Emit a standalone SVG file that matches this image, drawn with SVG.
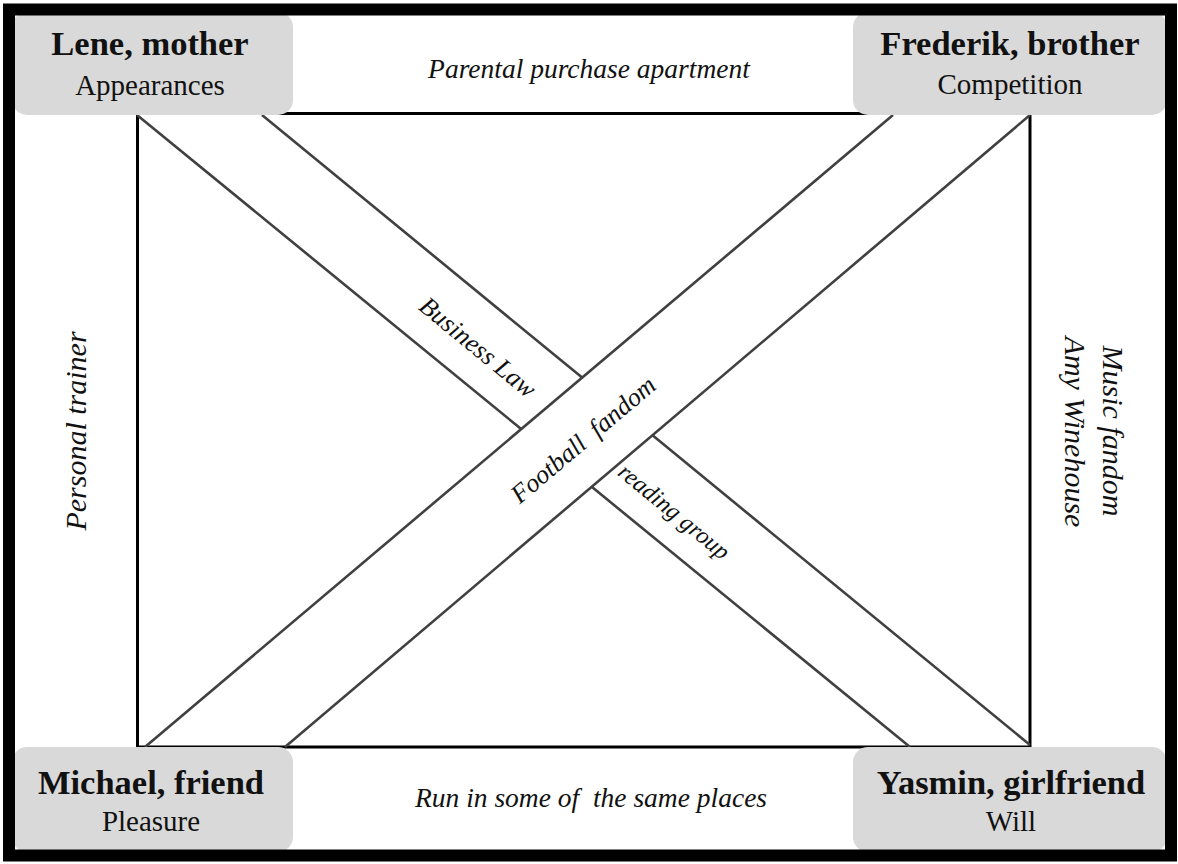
<svg xmlns="http://www.w3.org/2000/svg" width="1178" height="864" viewBox="0 0 1178 864">
<style>
.box{fill:#d9d9d9;}
.name{font-family:"Liberation Serif",serif;font-weight:bold;font-size:34.5px;fill:#111;text-anchor:middle;}
.sub{font-family:"Liberation Serif",serif;font-size:29px;fill:#111;text-anchor:middle;}
.lab{font-family:"Liberation Serif",serif;font-style:italic;font-size:27.5px;fill:#111;text-anchor:middle;white-space:pre;}
.vlab{font-family:"Liberation Serif",serif;font-style:italic;font-size:30px;fill:#111;text-anchor:middle;white-space:pre;}
.blab{font-family:"Liberation Serif",serif;font-style:italic;font-size:26px;fill:#111;text-anchor:middle;white-space:pre;}
.rect{fill:none;stroke:#000;stroke-width:3;}
.diag{stroke:#404040;stroke-width:2.6;fill:none;}
</style>
<rect x="0" y="0" width="1178" height="864" fill="#fff"/>
<g id="connectors">
<rect class="rect" x="137.5" y="113.5" width="892.5" height="633.5"/>
<line class="diag" x1="137" y1="115" x2="521.2" y2="429.1"/>
<line class="diag" x1="591.7" y1="486.8" x2="910" y2="747"/>
<line class="diag" x1="262" y1="115" x2="582.1" y2="377.6"/>
<line class="diag" x1="652.5" y1="435.3" x2="1030" y2="745"/>
<line class="diag" x1="893" y1="115" x2="145" y2="747"/>
<line class="diag" x1="1030" y1="115" x2="285" y2="747"/>
</g>
<g id="edge-labels">
<text class="lab" x="589" y="78">Parental purchase apartment</text>
<text class="lab" x="591" y="807">Run in some of  the same places</text>
<text class="vlab" transform="translate(86,431) rotate(-90)">Personal trainer</text>
<text class="vlab" transform="translate(1103,431) rotate(90)">Music fandom</text>
<text class="vlab" transform="translate(1065,432) rotate(90)">Amy Winehouse</text>
<text class="blab" transform="translate(480,344.6) rotate(39.4)" y="12">Business Law</text>
<text class="blab" transform="translate(581,437) rotate(-40.2)" y="12">Football  fandom</text>
<text class="blab" style="font-size:24px" transform="translate(678,506.8) rotate(39.4)" y="14">reading group</text>
</g>
<g id="node-lene">
<rect class="box" x="12" y="12" width="281" height="103" rx="15"/>
<text class="name" x="150" y="55">Lene, mother</text>
<text class="sub" x="150" y="95">Appearances</text>
</g>
<g id="node-frederik">
<rect class="box" x="853" y="12" width="314" height="103" rx="15"/>
<text class="name" x="1010" y="55">Frederik, brother</text>
<text class="sub" x="1010" y="94">Competition</text>
</g>
<g id="node-michael">
<rect class="box" x="12" y="747" width="281" height="105" rx="15"/>
<text class="name" x="151" y="794">Michael, friend</text>
<text class="sub" x="151" y="831">Pleasure</text>
</g>
<g id="node-yasmin">
<rect class="box" x="853" y="747" width="314" height="105" rx="15"/>
<text class="name" x="1011" y="794">Yasmin, girlfriend</text>
<text class="sub" x="1011" y="831">Will</text>
</g>
<rect id="frame" x="9" y="9.5" width="1162" height="846" fill="none" stroke="#000" stroke-width="12"/>
</svg>
